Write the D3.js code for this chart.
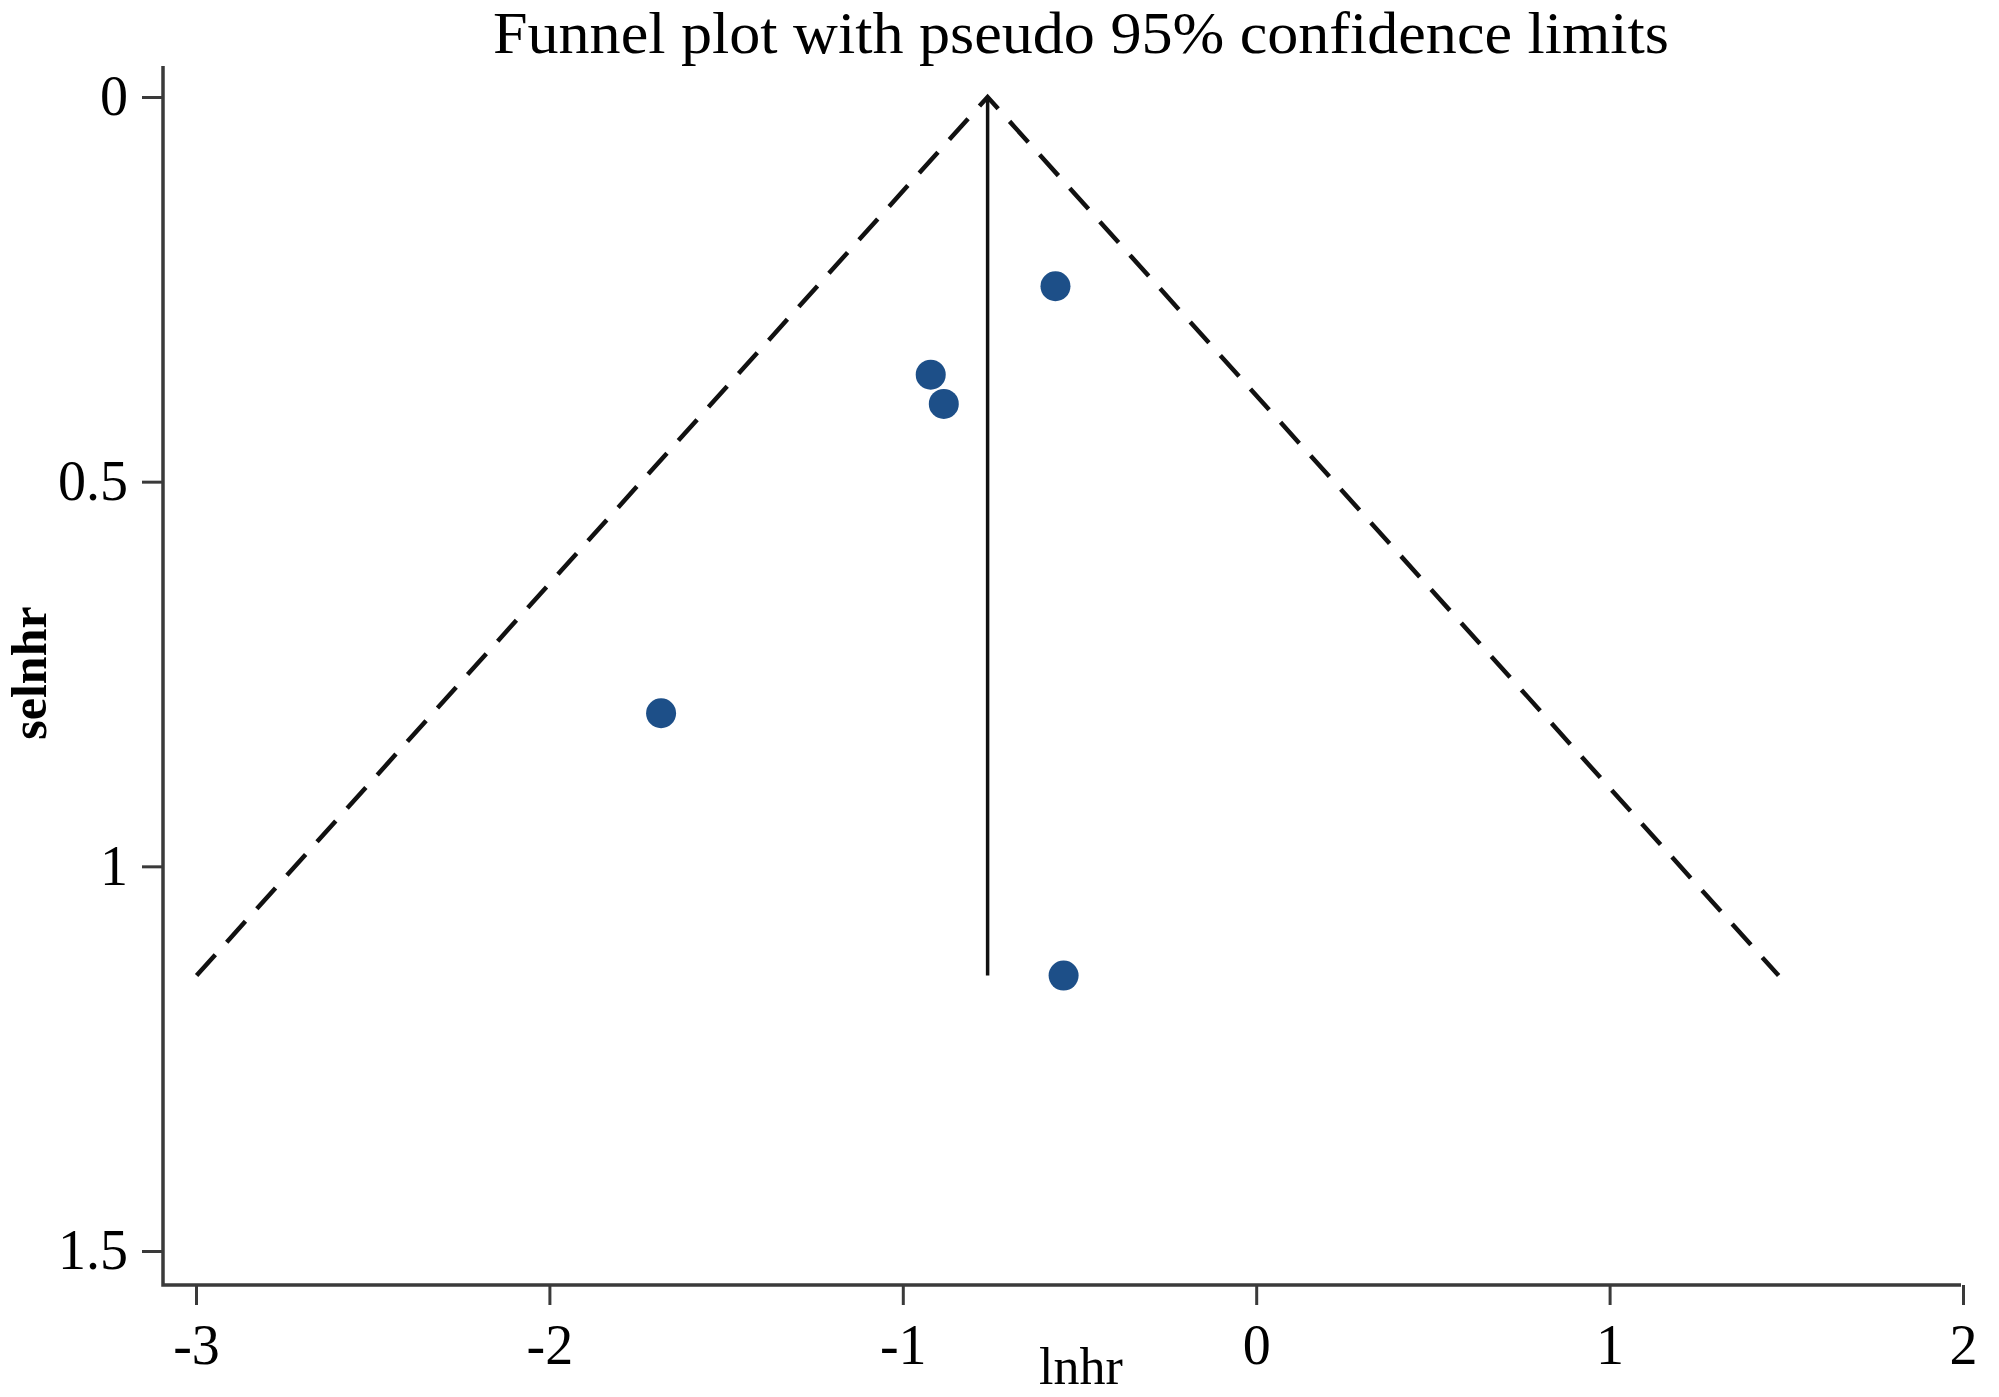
<!DOCTYPE html>
<html>
<head>
	<meta charset="utf-8">
	<title>Funnel plot</title>
	<script type="text/javascript" src="https://d3js.org/d3.v7.min.js"></script>
	<style>
		body { margin: 0; background: #fff; }
		svg { display: block; font-family: "Liberation Serif", "Times New Roman", serif; }
		.axis text { font-size: 56px; fill: #000; font-family: "Liberation Serif", "Times New Roman", serif; }
		.axis line { stroke: #3a3a3a; stroke-width: 3px; }
	</style>
</head>
<body>
	<svg width="1999" height="1397"></svg>
	<script type="text/javascript">

	// study estimates
	var lnhr   = [-0.568, -0.921, -0.884, -1.684, -0.545];
	var selnhr = [0.246, 0.361, 0.399, 0.801, 1.142];

	// pooled estimate and largest standard error (funnel apex / base)
	var pooled = -0.76;
	var seMax = 1.142;

	var xTicks = [-3, -2, -1, 0, 1, 2];
	var yTicks = [0, 0.5, 1, 1.5];

	var svg = d3.select("svg");

	// plot region edges
	var plotLeft = 163, plotRight = 1961, plotTop = 66, plotBottom = 1285;

	var x = d3.scaleLinear().domain([-3, 2]).range([196, 1963]);
	var y = d3.scaleLinear().domain([0, 1.5]).range([97, 1251]);

	// title
	svg.append("text")
		.attr("x", 1081)
		.attr("y", 53)
		.attr("text-anchor", "middle")
		.attr("textLength", 1176)
		.attr("lengthAdjust", "spacingAndGlyphs")
		.style("font-size", "59px")
		.text("Funnel plot with pseudo 95% confidence limits");

	// axes
	var yAxis = svg.append("g")
		.attr("class", "axis")
		.attr("transform", "translate(" + plotLeft + ",0)")
		.call(d3.axisLeft(y).tickValues(yTicks).tickSize(21).tickPadding(14)
			.tickFormat(function(d) { return String(d); }));
	yAxis.select(".domain").remove();

	var xAxis = svg.append("g")
		.attr("class", "axis")
		.attr("transform", "translate(0," + plotBottom + ")")
		.call(d3.axisBottom(x).tickValues(xTicks).tickSize(20).tickPadding(19)
			.tickFormat(function(d) { return String(d); }));
	xAxis.select(".domain").remove();

	svg.selectAll(".axis").attr("font-family", null).attr("font-size", null);

	svg.append("path")
		.attr("d", "M" + plotLeft + "," + plotTop + "V" + plotBottom + "H" + plotRight)
		.attr("fill", "none")
		.attr("stroke", "#3a3a3a")
		.attr("stroke-width", 3.5);

	// axis titles
	svg.append("text")
		.attr("x", 1081)
		.attr("y", 1384)
		.attr("text-anchor", "middle")
		.style("font-size", "52px")
		.text("lnhr");

	svg.append("text")
		.attr("transform", "translate(46,673) rotate(-90)")
		.attr("text-anchor", "middle")
		.style("font-size", "50px")
		.style("font-weight", "bold")
		.text("selnhr");

	// pseudo 95% confidence limits
	var funnel = [
		[pooled - 1.96 * seMax, seMax],
		[pooled, 0],
		[pooled + 1.96 * seMax, seMax]
	];
	var line = d3.line()
		.x(function(d) { return x(d[0]); })
		.y(function(d) { return y(d[1]); });

	svg.append("path")
		.attr("d", line(funnel))
		.attr("fill", "none")
		.attr("stroke", "#111")
		.attr("stroke-width", 4.5)
		.attr("stroke-dasharray", "28,17");

	// pooled estimate line
	svg.append("path")
		.attr("d", line([[pooled, 0], [pooled, seMax]]))
		.attr("stroke", "#111")
		.attr("stroke-width", 3.5);

	// studies
	svg.selectAll(".dot")
		.data(lnhr)
		.enter().append("circle")
		.attr("class", "dot")
		.attr("cx", function(d) { return x(d); })
		.attr("cy", function(d, i) { return y(selnhr[i]); })
		.attr("r", 15)
		.attr("fill", "#1d4f88");

	</script>
</body>
</html>
